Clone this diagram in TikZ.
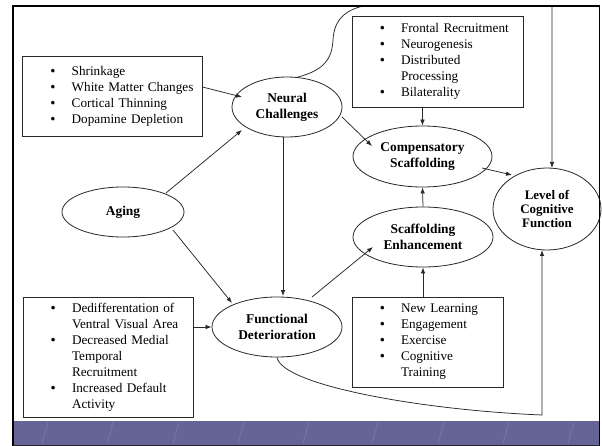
\documentclass[tikz,border=0pt]{standalone}
\usepackage{fontspec}
\setmainfont{Liberation Serif}
\usetikzlibrary{calc,arrows.meta,shapes.geometric}
\definecolor{band}{RGB}{100,100,150}
\definecolor{streak}{RGB}{116,116,164}
\definecolor{ln}{RGB}{40,40,40}
\newcommand{\bdot}{{\bfseries\textbullet}}
\newcommand{\bitem}[1]{\hspace*{28pt}\makebox[21pt][l]{\bdot}#1}
\newcommand{\bcont}[1]{\hspace*{49pt}#1}
\begin{document}
\begin{tikzpicture}[x=1pt,y=-1pt,
  ell/.style={ellipse, draw=ln, line width=0.8pt, inner sep=0pt, align=center,
    font=\fontsize{13.4}{16}\selectfont\bfseries},
  bbox/.style={rectangle, draw=ln, line width=0.8pt, inner xsep=0pt, inner ysep=0pt,
    align=left, font=\fontsize{13.2}{16}\selectfont},
  arr/.style={draw=ln, line width=0.75pt, -{Latex[length=6pt,width=4.5pt]}},
]
\useasboundingbox (0,0) rectangle (602,446);
\fill[white] (0,0) rectangle (602,446);

% ellipses
\node[ell, minimum width=110pt, minimum height=60pt] (neural) at (287,107) {Neural\\Challenges};
\node[ell, minimum width=139pt, minimum height=61pt] (comp) at (422.5,156.5) {Compensatory\\Scaffolding};
\node[ell, minimum width=108pt, minimum height=82pt, font=\fontsize{13}{14}\selectfont\bfseries] (level) at (547,209) {Level of\\Cognitive\\Function};
\node[ell, minimum width=122pt, minimum height=50pt] (aging) at (123,212) {Aging};
\node[ell, minimum width=140pt, minimum height=60pt] (enh) at (423,237) {Scaffolding\\Enhancement};
\node[ell, minimum width=130pt, minimum height=60pt] (func) at (277,327) {Functional\\Deterioration};

% boxes
\node[bbox, text width=179.3pt, minimum height=80pt] (b1) at (112.35,96)
  {\bitem{Shrinkage}\\\bitem{White Matter Changes}\\\bitem{Cortical Thinning}\\\bitem{Dopamine Depletion}};
\node[bbox, text width=171pt, minimum height=91pt] (fb) at (437.5,61.5)
  {\bitem{Frontal Recruitment}\\\bitem{Neurogenesis}\\\bitem{Distributed}\\\bcont{Processing}\\\bitem{Bilaterality}};
\node[bbox, text width=170pt, minimum height=120pt] (b2) at (108,357)
  {\bitem{Dedifferentation of}\\\bcont{Ventral Visual Area}\\\bitem{Decreased Medial}\\\bcont{Temporal}\\\bcont{Recruitment}\\\bitem{Increased Default}\\\bcont{Activity}};
\node[bbox, text width=151pt, minimum height=90pt] (nb) at (427.5,342)
  {\bitem{New Learning}\\\bitem{Engagement}\\\bitem{Exercise}\\\bitem{Cognitive}\\\bcont{Training}};

% connectors
\draw[arr] ($(b1.east)+(0,-9)$) -- ($(neural)+(-45,-10)$);
\draw[arr] ($(aging)+(43,-19)$) -- ($(neural)+(-45,23)$);
\draw[arr] ($(aging)+(50,18)$) -- ($(func)+(-45,-24)$);
\draw[arr] ($(neural)+(-4,30)$) -- ($(func)+(6,-31)$);
\draw[arr] (b2.east |- func.west) -- (func.west);
\draw[arr] ($(func)+(35,-30)$) -- ($(enh)+(-50,10)$);
\draw[arr] (nb.north -| enh.south) -- (enh.south);
\draw[arr] (enh.north) -- (comp.south);
\draw[arr] (fb.south -| comp.north) -- (comp.north);
\draw[arr] ($(neural)+(55,10)$) -- ($(comp)+(-50.5,-10.5)$);
\draw[arr] ($(comp)+(59.5,11.5)$) -- ($(level)+(-35,-34)$);
\begin{scope}
  \clip (14,7.5) rectangle (599,421);
  \draw[arr] ($(neural)+(11,-30)$) .. controls (325,70) and (332,58) .. (333,40)
    .. controls (334,20) and (345,9) .. (368,5) -- (548,3) .. controls (552,3) .. (552,8)
    -- ($(level)+(5,-41)$);
\end{scope}
\draw[arr] (func.south) .. controls (282,385) and (420,410) .. (542,415) -- ($(level)+(-5,41)$);

% bottom band
\fill[band] (13,421) rectangle (600,445);
\foreach \x in {42,107,173,238,303,372,438,503,568}
  \draw[streak, line width=1pt] (\x,444) -- (\x+6,422);

% frame
\draw[black, line width=2pt] (13,446) -- (13,6) -- (600,6);
\draw[black, line width=1pt] (599.5,6) -- (599.5,446);
\draw[black!85, line width=1.2pt] (13,445.4) -- (600,445.4);
\end{tikzpicture}
\end{document}
